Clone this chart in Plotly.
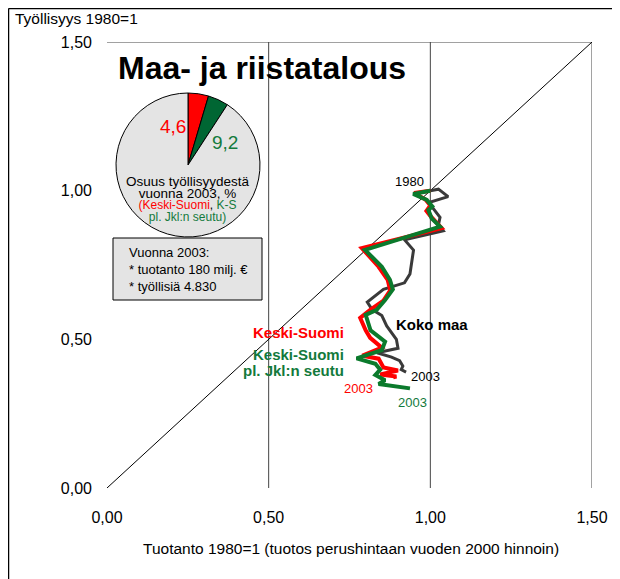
import plotly.graph_objects as go

W, H = 620, 579
OFF = 8  # page body margin of the rendered html
FONT = "Liberation Sans, Arial, Helvetica, sans-serif"

# ---- data ----
years = list(range(1980, 2004))
koko_maa_x = [1.000, 1.025, 1.055, 0.995, 1.030, 1.025, 1.040, 0.920, 0.948, 0.937, 0.920, 0.855,
              0.805, 0.820, 0.850, 0.865, 0.895, 0.900, 0.835, 0.880, 0.905, 0.915, 0.910, 0.925]
koko_maa_y = [1.000, 1.005, 0.980, 0.960, 0.910, 0.885, 0.865, 0.835, 0.800, 0.720, 0.690, 0.668,
              0.625, 0.600, 0.580, 0.545, 0.500, 0.470, 0.455, 0.440, 0.428, 0.410, 0.398, 0.390]
ks_x = [1.000, 0.950, 0.985, 1.000, 0.988, 1.000, 1.035, 0.788, 0.840, 0.868, 0.876, 0.855,
        0.815, 0.783, 0.800, 0.814, 0.850, 0.790, 0.840, 0.855, 0.900, 0.845, 0.895, 0.885]
ks_y = [1.000, 0.992, 0.970, 0.950, 0.932, 0.915, 0.874, 0.807, 0.744, 0.700, 0.665, 0.630,
        0.600, 0.572, 0.530, 0.505, 0.472, 0.445, 0.435, 0.405, 0.395, 0.382, 0.375, 0.372]
ksjkl_x = [1.000, 0.947, 0.989, 1.006, 0.994, 1.004, 1.030, 0.798, 0.850, 0.875, 0.884, 0.860,
           0.834, 0.800, 0.815, 0.860, 0.850, 0.772, 0.830, 0.845, 0.830, 0.860, 0.840, 0.937]
ksjkl_y = [1.000, 0.989, 0.969, 0.947, 0.935, 0.907, 0.879, 0.801, 0.744, 0.700, 0.668, 0.632,
           0.599, 0.582, 0.530, 0.492, 0.464, 0.436, 0.418, 0.398, 0.380, 0.362, 0.350, 0.335]

tick_vals = [0, 0.5, 1.0, 1.5]
tick_text = ["0,00", "0,50", "1,00", "1,50"]

pie_ks = 4.6        # Keski-Suomi share of employment 2003, %
pie_ksjkl = 9.2     # K-S excl. Jyväskylä region, %

RED = "#ff0000"
GREEN = "#0b7a2c"
GREEN_TXT = "#137a3c"
GRAY = "#3a3a3a"


def px(x):
    return (x - OFF) / W


def py(y):
    return 1 - (y - OFF) / H


fig = go.Figure()

# reference lines (gridlines at 0.5, 1.0, 1.5, top border, diagonal)
for v in tick_vals[1:]:
    fig.add_trace(go.Scatter(x=[v, v], y=[0, 1.5], mode="lines",
                             line=dict(color="#444444", width=1), hoverinfo="skip"))
fig.add_trace(go.Scatter(x=[0, 1.5], y=[1.5, 1.5], mode="lines",
                         line=dict(color="#444444", width=1), hoverinfo="skip"))
fig.add_trace(go.Scatter(x=[0, 1.5], y=[0, 1.5], mode="lines",
                         line=dict(color="black", width=1), hoverinfo="skip"))

fig.add_trace(go.Scatter(x=koko_maa_x, y=koko_maa_y, mode="lines", name="Koko maa",
                         line=dict(color=GRAY, width=3), text=years))
fig.add_trace(go.Scatter(x=ks_x, y=ks_y, mode="lines", name="Keski-Suomi",
                         line=dict(color=RED, width=4), text=years))
fig.add_trace(go.Scatter(x=ksjkl_x, y=ksjkl_y, mode="lines", name="Keski-Suomi pl. Jkl:n seutu",
                         line=dict(color=GREEN, width=4), text=years))

# pie
fig.add_trace(go.Pie(values=[pie_ks, pie_ksjkl - pie_ks, 100 - pie_ksjkl],
                     marker=dict(colors=[RED, "#006633", "#e4e4e4"],
                                 line=dict(color="black", width=1)),
                     sort=False, direction="clockwise", rotation=0,
                     textinfo="none", hoverinfo="skip", showlegend=False,
                     domain=dict(x=[px(116), px(260)], y=[py(237), py(93)])))

shapes = [
    # outer frame (left & top)
    dict(type="line", xref="paper", yref="paper", x0=px(8.5), x1=px(8.5), y0=0, y1=py(8.5),
         line=dict(color="black", width=1.5)),
    dict(type="line", xref="paper", yref="paper", x0=px(8.5), x1=1, y0=py(8.5), y1=py(8.5),
         line=dict(color="black", width=1.5)),
    # info box
    dict(type="rect", xref="paper", yref="paper", x0=px(113), x1=px(262), y0=py(300), y1=py(238),
         fillcolor="#e4e4e4", line=dict(color="black", width=1)),
]


def ann(text, x, y, size=13, color="black", bold=False, xanchor="center", yanchor="middle"):
    if bold:
        text = "<b>" + text + "</b>"
    return dict(text=text, x=px(x), y=py(y), xref="paper", yref="paper", showarrow=False,
                xanchor=xanchor, yanchor=yanchor, font=dict(family=FONT, size=size, color=color))


pie_caption = (
    "<span style='font-size:13.5px'>Osuus työllisyydestä</span><br>"
    "<span style='font-size:13.5px'>vuonna 2003, %</span><br>"
    "<span style='font-size:12px;color:#ff0000'>(Keski-Suomi</span>"
    "<span style='font-size:12px'>, </span>"
    "<span style='font-size:12px;color:#137a3c'>K-S</span><br>"
    "<span style='font-size:12px;color:#137a3c'>pl. Jkl:n seutu)</span>"
)

annotations = [
    ann("Työllisyys 1980=1", 13, 18, 15.5, xanchor="left"),
    ann("Tuotanto 1980=1 (tuotos perushintaan vuoden 2000 hinnoin)", 351, 548, 15.5),
    ann("Maa- ja riistatalous", 262, 68, 32, bold=True),
    ann("4,6", 173, 126, 19, RED),
    ann("9,2", 225, 143, 19, GREEN_TXT),
    ann(pie_caption, 188, 199, 9),
    ann("Vuonna 2003:", 127, 252, 13, xanchor="left"),
    ann("* tuotanto 180 milj. €", 127, 269, 13, xanchor="left"),
    ann("* työllisiä 4.830", 127, 286, 13, xanchor="left"),
    ann("Koko maa", 394, 324, 15, bold=True, xanchor="left"),
    ann("Keski-Suomi", 346, 332, 15, RED, bold=True, xanchor="right"),
    ann("Keski-Suomi", 346, 355, 15, GREEN_TXT, bold=True, xanchor="right"),
    ann("pl. Jkl:n seutu", 346, 370, 15, GREEN_TXT, bold=True, xanchor="right"),
    ann("1980", 409, 181, 13),
    ann("2003", 425, 376, 13),
    ann("2003", 358, 388, 13, RED),
    ann("2003", 412, 402, 13, GREEN_TXT),
]

fig.update_layout(
    width=W, height=H, margin=dict(l=0, r=0, t=0, b=0, autoexpand=False),
    paper_bgcolor="white", plot_bgcolor="white", showlegend=False,
    font=dict(family=FONT, color="black"),
    xaxis=dict(domain=[px(107), px(592)], range=[0, 1.5], showgrid=False, zeroline=False,
               showline=False, ticks="", tickvals=tick_vals, ticktext=tick_text, automargin=False,
               tickfont=dict(size=16, family=FONT), ticklabelstandoff=18, fixedrange=True),
    yaxis=dict(domain=[py(488), py(42)], range=[0, 1.5], showgrid=False, zeroline=False,
               showline=False, ticks="", tickvals=tick_vals, ticktext=tick_text, automargin=False,
               tickfont=dict(size=16, family=FONT), ticklabelstandoff=14, fixedrange=True),
    shapes=shapes, annotations=annotations,
)

fig.write_html("out.html")
